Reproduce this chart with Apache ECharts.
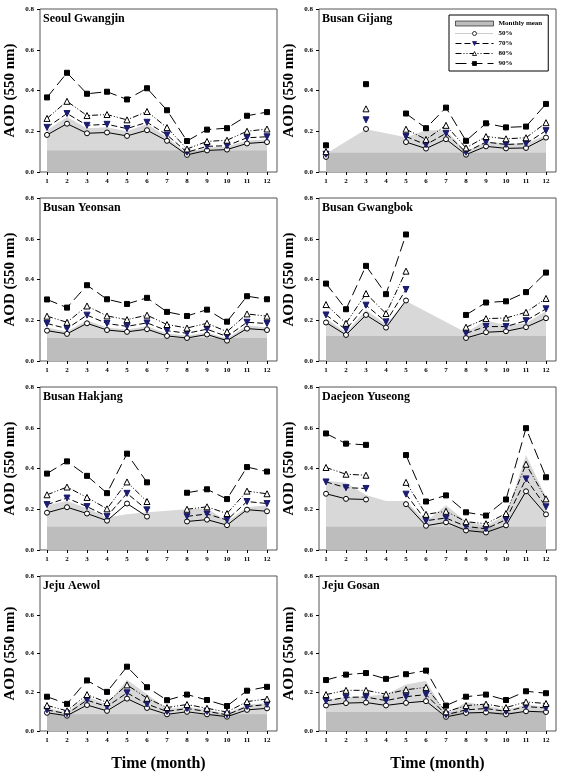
<!DOCTYPE html>
<html>
<head>
<meta charset="utf-8">
<script src="https://cdn.jsdelivr.net/npm/echarts@6/dist/echarts.min.js"></script>
<style>
  html, body { margin: 0; padding: 0; background: #fff; }
  #main { width: 562px; height: 773px; }
</style>
</head>
<body>
<div id="main"></div>
<script>
var months = [1, 2, 3, 4, 5, 6, 7, 8, 9, 10, 11, 12];
var yTicks = [0, 0.2, 0.4, 0.6, 0.8];
var sites = ["Seoul Gwangjin", "Busan Gijang", "Busan Yeonsan", "Busan Gwangbok",
  "Busan Hakjang", "Daejeon Yuseong", "Jeju Aewol", "Jeju Gosan"];
var seriesNames = ["Monthly mean", "50%", "70%", "80%", "90%"];

// dark band level (one per site)
var bandLevel = [0.105, 0.094, 0.113, 0.123, 0.114, 0.114, 0.086, 0.098];

// monthly mean AOD, one row per site (null = no data)
var meanAOD = [
  [0.205, 0.27, 0.215, 0.22, 0.2, 0.235, 0.17, 0.09, 0.12, 0.125, 0.155, 0.16],
  [0.09, null, 0.21, null, 0.17, 0.205, 0.205, 0.1, 0.15, 0.14, 0.14, 0.18],
  [0.165, 0.145, 0.2, 0.165, 0.155, 0.17, 0.135, 0.125, 0.14, 0.11, 0.175, 0.165],
  [0.21, 0.14, 0.25, 0.18, 0.295, null, null, 0.14, 0.2, 0.175, 0.185, 0.245],
  [0.22, 0.24, 0.205, 0.16, 0.175, 0.185, null, 0.2, 0.205, 0.14, 0.21, 0.22],
  [0.34, 0.33, 0.27, 0.24, 0.24, 0.14, 0.22, 0.14, 0.12, 0.17, 0.466, 0.26],
  [0.12, 0.095, 0.18, 0.135, 0.265, 0.19, 0.115, 0.125, 0.11, 0.09, 0.135, 0.145],
  [0.16, 0.175, 0.18, 0.19, 0.24, 0.26, 0.085, 0.15, 0.13, 0.11, 0.135, 0.125]
];
var p50 = [
  [0.182, 0.237, 0.19, 0.194, 0.177, 0.205, 0.153, 0.084, 0.106, 0.11, 0.14, 0.147],
  [0.074, null, 0.211, null, 0.147, 0.115, 0.161, 0.085, 0.126, 0.116, 0.118, 0.169],
  [0.149, 0.133, 0.185, 0.152, 0.143, 0.156, 0.123, 0.113, 0.13, 0.1, 0.159, 0.152],
  [0.189, 0.128, 0.226, 0.164, 0.297, null, null, 0.113, 0.141, 0.146, 0.166, 0.21],
  [0.183, 0.21, 0.179, 0.144, 0.228, 0.164, null, 0.14, 0.149, 0.122, 0.198, 0.19],
  [0.276, 0.251, 0.248, null, 0.225, 0.119, 0.136, 0.096, 0.086, 0.121, 0.288, 0.175],
  [0.094, 0.079, 0.134, 0.104, 0.167, 0.119, 0.086, 0.099, 0.086, 0.074, 0.109, 0.117],
  [0.132, 0.144, 0.147, 0.132, 0.145, 0.154, 0.073, 0.093, 0.096, 0.086, 0.102, 0.098]
];
var p70 = [
  [0.219, 0.287, 0.229, 0.234, 0.213, 0.244, 0.182, 0.097, 0.126, 0.129, 0.168, 0.173],
  [0.087, null, 0.256, null, 0.174, 0.134, 0.19, 0.097, 0.147, 0.135, 0.139, 0.203],
  [0.184, 0.159, 0.225, 0.184, 0.17, 0.187, 0.149, 0.136, 0.156, 0.12, 0.19, 0.184],
  [0.226, 0.154, 0.274, 0.192, 0.351, null, null, 0.136, 0.169, 0.169, 0.198, 0.256],
  [0.223, 0.255, 0.213, 0.165, 0.278, 0.197, null, 0.165, 0.177, 0.147, 0.238, 0.228],
  [0.334, 0.306, 0.302, null, 0.274, 0.144, 0.157, 0.116, 0.104, 0.149, 0.349, 0.212],
  [0.109, 0.089, 0.159, 0.126, 0.197, 0.139, 0.101, 0.116, 0.101, 0.084, 0.126, 0.137],
  [0.155, 0.174, 0.175, 0.157, 0.177, 0.188, 0.084, 0.109, 0.116, 0.101, 0.126, 0.119]
];
var p80 = [
  [0.263, 0.347, 0.277, 0.282, 0.256, 0.297, 0.218, 0.113, 0.15, 0.156, 0.2, 0.211],
  [0.1, null, 0.31, null, 0.21, 0.16, 0.229, 0.118, 0.174, 0.163, 0.168, 0.242],
  [0.22, 0.19, 0.27, 0.221, 0.203, 0.225, 0.179, 0.162, 0.185, 0.144, 0.231, 0.22],
  [0.277, 0.185, 0.331, 0.233, 0.441, null, null, 0.166, 0.208, 0.211, 0.239, 0.307],
  [0.271, 0.309, 0.258, 0.202, 0.334, 0.238, null, 0.2, 0.212, 0.179, 0.289, 0.276],
  [0.405, 0.372, 0.367, null, 0.332, 0.175, 0.19, 0.139, 0.129, 0.179, 0.421, 0.251],
  [0.132, 0.104, 0.188, 0.147, 0.238, 0.169, 0.121, 0.137, 0.117, 0.098, 0.152, 0.165],
  [0.188, 0.21, 0.21, 0.19, 0.213, 0.225, 0.099, 0.131, 0.139, 0.121, 0.15, 0.142]
];
var p90 = [
  [0.366, 0.487, 0.384, 0.394, 0.356, 0.411, 0.303, 0.152, 0.208, 0.215, 0.276, 0.294],
  [0.131, null, 0.431, null, 0.287, 0.215, 0.316, 0.153, 0.239, 0.219, 0.223, 0.334],
  [0.302, 0.262, 0.372, 0.303, 0.28, 0.31, 0.241, 0.221, 0.252, 0.193, 0.318, 0.303],
  [0.38, 0.254, 0.467, 0.328, 0.621, null, null, 0.226, 0.287, 0.293, 0.338, 0.434],
  [0.375, 0.435, 0.364, 0.279, 0.473, 0.332, null, 0.281, 0.298, 0.25, 0.407, 0.385],
  [0.572, 0.522, 0.516, null, 0.466, 0.238, 0.268, 0.185, 0.169, 0.248, 0.598, 0.357],
  [0.177, 0.14, 0.261, 0.202, 0.332, 0.226, 0.159, 0.188, 0.16, 0.129, 0.208, 0.228],
  [0.263, 0.291, 0.299, 0.269, 0.293, 0.312, 0.131, 0.177, 0.188, 0.16, 0.205, 0.195]
];

function init_panels(container) {
  var chartDom = document.getElementById(container);
  var myChart = echarts.init(chartDom, null, { renderer: "canvas" });

  var serif = "'Liberation Serif', 'DejaVu Serif', serif";
  var colLeft = [40, 319];
  var rowTop = [9, 198, 387, 576];
  var plotW = 237, plotH = 163;

  var pctStyles = [
    { name: "50%", data: p50, symbol: "circle", size: 5, rotate: 0, color: "#fff", dash: "solid" },
    { name: "70%", data: p70, symbol: "triangle", size: 6, rotate: 180, color: "#1c1c70", dash: [6, 3] },
    { name: "80%", data: p80, symbol: "triangle", size: 6, rotate: 0, color: "#fff", dash: [6, 2, 1, 2, 1, 2] },
    { name: "90%", data: p90, symbol: "rect", size: 5, rotate: 0, color: "#000", dash: [11, 5] }
  ];

  function pairs(arr) {
    return arr.map(function (v, i) { return [months[i], v === null ? "-" : v]; });
  }

  var grid = [], xAxis = [], yAxis = [], series = [], title = [];

  sites.forEach(function (site, k) {
    var col = k % 2, row = Math.floor(k / 2);
    grid.push({
      left: colLeft[col], top: rowTop[row], width: plotW, height: plotH,
      show: true, borderColor: "#555", borderWidth: 1, backgroundColor: "#fff"
    });
    xAxis.push({
      type: "value", gridIndex: k, min: 0.65, max: 12.5,
      name: row === 3 ? "Time (month)" : "",
      nameLocation: "middle", nameGap: 25,
      nameTextStyle: { fontFamily: serif, fontWeight: "bold", fontSize: 16, color: "#000" },
      splitLine: { show: false },
      axisLine: { show: false },
      axisTick: { show: true, length: 3, customValues: months, lineStyle: { color: "#000" } },
      axisLabel: {
        customValues: months, margin: 6,
        fontFamily: serif, fontWeight: "bold", fontSize: 7, color: "#000"
      }
    });
    yAxis.push({
      type: "value", gridIndex: k, min: 0, max: 0.8, interval: 0.2,
      name: "AOD (550 nm)", nameLocation: "middle", nameGap: 22, nameRotate: 90,
      nameTextStyle: { fontFamily: serif, fontWeight: "bold", fontSize: 15, color: "#000" },
      splitLine: { show: false },
      axisLine: { show: false },
      axisTick: { show: true, length: 3, lineStyle: { color: "#000" } },
      axisLabel: {
        margin: 6, fontFamily: serif, fontWeight: "bold", fontSize: 7, color: "#000",
        formatter: function (v) { return v.toFixed(1); }
      }
    });
    title.push({
      text: site, left: colLeft[col] + 3, top: rowTop[row] + 4, padding: 0,
      textStyle: { fontFamily: serif, fontWeight: "bold", fontSize: 12, color: "#000" }
    });

    // monthly mean, light area
    series.push({
      name: "Monthly mean", type: "line", xAxisIndex: k, yAxisIndex: k,
      data: pairs(meanAOD[k]), connectNulls: true, symbol: "none", silent: true,
      lineStyle: { width: 0 }, itemStyle: { color: "#d8d8d8" },
      areaStyle: { color: "#d8d8d8", opacity: 1 }, z: 1
    });
    // darker band
    series.push({
      type: "line", xAxisIndex: k, yAxisIndex: k,
      data: [[1, bandLevel[k]], [12, bandLevel[k]]], symbol: "none", silent: true,
      lineStyle: { width: 0 }, areaStyle: { color: "#bdbdbd", opacity: 1 }, z: 2
    });
    pctStyles.forEach(function (p) {
      series.push({
        name: p.name, type: "line", xAxisIndex: k, yAxisIndex: k,
        data: pairs(p.data[k]), connectNulls: false,
        symbol: p.symbol, symbolSize: p.size, symbolRotate: p.rotate, showAllSymbol: true,
        lineStyle: { color: "#000", width: 1, type: p.dash },
        itemStyle: { color: p.color, borderColor: p.name === "70%" ? "#1c1c70" : "#000", borderWidth: 1 },
        z: 5
      });
    });
  });

  var option = {
    animation: false,
    title: title,
    grid: grid,
    xAxis: xAxis,
    yAxis: yAxis,
    legend: {
      orient: "vertical", left: 449, top: 15,
      itemWidth: 38, itemHeight: 5, itemGap: 3,
      padding: [5, 6, 4, 6],
      borderColor: "#000", borderWidth: 1, backgroundColor: "#fff",
      lineStyle: { width: 1 },
      itemStyle: { borderWidth: 0.8 },
      data: [
        { name: "Monthly mean", icon: "rect", itemStyle: { color: "#bdbdbd", borderColor: "#000", borderWidth: 0.6 } },
        { name: "50%", lineStyle: { type: "dotted", color: "#999", width: 1 } },
        "70%", "80%", "90%"
      ],
      textStyle: { fontFamily: serif, fontWeight: "bold", fontSize: 7, color: "#000" }
    },
    series: series
  };

  myChart.setOption(option);
}

init_panels("main");
</script>
</body>
</html>
